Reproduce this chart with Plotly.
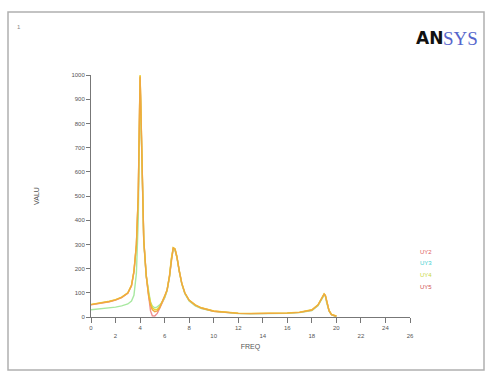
import plotly.graph_objects as go

# ---- data ----
freq = [0, 0.5, 1, 1.5, 2, 2.5, 3.0, 3.3, 3.5, 3.7, 3.85, 3.95, 4.0, 4.05, 4.15, 4.3,
        4.5, 4.7, 4.85, 5.0, 5.2, 5.4, 5.6, 5.8, 6.0, 6.2, 6.4, 6.55, 6.7, 6.85, 7.0,
        7.2, 7.4, 7.65, 8.0, 8.5, 9, 10, 11, 12, 13, 14, 15, 16, 17, 18, 18.5, 18.8,
        19.0, 19.1, 19.2, 19.4, 19.6, 19.8, 20]
uy_a = [50, 54, 58, 63, 70, 80, 98, 128, 185, 295, 495, 795, 990, 890, 590, 315,
        170, 70, 25, 5, 4, 15, 35, 58, 80, 110, 168, 238, 282, 278, 248,
        188, 138, 98, 68, 48, 37, 24, 18, 15, 14, 14, 15, 16, 19, 28, 48, 75,
        93, 88, 62, 26, 10, 5, 3]
uy_b = [30, 32, 34, 37, 41, 46, 54, 66, 90, 180, 400, 740, 960, 870, 580, 310,
        168, 95, 62, 45, 38, 42, 50, 62, 80, 108, 165, 235, 280, 276, 246,
        186, 136, 96, 66, 46, 35, 23, 17, 14, 13, 13, 14, 15, 18, 27, 46, 72,
        90, 86, 60, 25, 10, 5, 3]
uy_c = [52, 56, 60, 65, 72, 82, 100, 132, 190, 300, 505, 805, 1000, 900, 600, 320,
        175, 95, 60, 38, 30, 32, 42, 62, 84, 112, 172, 242, 287, 282, 250,
        190, 140, 100, 70, 50, 38, 25, 19, 16, 15, 15, 16, 17, 20, 30, 50, 78,
        96, 90, 64, 27, 11, 6, 4]
uy_d = [51, 55, 59, 64, 71, 81, 99, 130, 188, 298, 500, 800, 995, 895, 595, 318,
        172, 85, 48, 30, 22, 25, 38, 60, 82, 111, 170, 240, 285, 280, 249,
        189, 139, 99, 69, 49, 37, 24, 18, 15, 14, 14, 15, 16, 19, 29, 49, 76,
        94, 89, 63, 26, 10, 5, 3]

series_names = ["UY2", "UY3", "UY4", "UY5"]
series_vals = [uy_a, uy_b, uy_c, uy_d]
line_colors = ["#F09090", "#A8E8A0", "#E8D830", "#F0A840"]
legend_colors = ["#E06060", "#40D0D0", "#C8D840", "#D05050"]

x_ticks = list(range(0, 28, 2))
y_ticks = list(range(0, 1100, 100))

fig = go.Figure()
for name, vals, c in zip(series_names, series_vals, line_colors):
    fig.add_trace(go.Scatter(x=freq, y=vals, mode="lines", name=name,
                             line=dict(color=c, width=1.4), showlegend=False))

x_ticktext = [str(v) if i % 2 == 0 else "<br>" + str(v) for i, v in enumerate(x_ticks)]

# plot area pixel geometry
L, R, T, B = 91, 410, 75, 317
W, H = 490, 372
def px(xp):
    return (xp - L) / (R - L)
def py(yp):
    return (B - yp) / (B - T)

shapes = [dict(type="rect", xref="paper", yref="paper", layer="above",
               x0=px(8), x1=px(484), y0=py(370), y1=py(12),
               line=dict(color="#B0B0B0", width=1.5))]

annotations = [
    dict(xref="paper", yref="paper", x=px(15), y=py(22), text="1", showarrow=False,
         font=dict(size=6, color="#888888", family="Arial")),
    dict(xref="paper", yref="paper", x=px(414), y=py(26), xanchor="left", showarrow=False,
         text="<b>AN</b>", font=dict(size=17, color="#111111", family="DejaVu Sans")),
    dict(xref="paper", yref="paper", x=px(441), y=py(26), xanchor="left", showarrow=False,
         text="SYS", font=dict(size=19, color="#5566CC", family="Liberation Serif")),
]
for i, (name, c) in enumerate(zip(series_names, legend_colors)):
    yy = [257, 268, 280, 292][i]
    annotations.append(dict(xref="paper", yref="paper", x=px(418), y=py(yy), xanchor="left",
                            text=name, showarrow=False,
                            font=dict(size=6, color=c, family="Arial")))

fig.update_layout(
    width=W, height=H,
    margin=dict(l=L, r=W - R, t=T, b=H - B, pad=0),
    paper_bgcolor="white", plot_bgcolor="white",
    font=dict(family="Arial", size=6, color="#555555"),
    xaxis=dict(range=[0, 26], tickvals=x_ticks, ticktext=x_ticktext, showgrid=False,
               zeroline=False, showline=True, linecolor="#777777", linewidth=1,
               ticks="outside", ticklen=5, tickcolor="#777777",
               title=dict(text="FREQ", font=dict(size=7, color="#555555"), standoff=6),
               tickfont=dict(size=6, color="#555555")),
    yaxis=dict(range=[0, 1000], tickvals=y_ticks, showgrid=False, zeroline=False,
               showline=True, linecolor="#777777", linewidth=1,
               ticks="outside", ticklen=4, tickcolor="#777777",
               title=dict(text="VALU", font=dict(size=7, color="#555555"), standoff=30),
               tickfont=dict(size=6, color="#555555")),
    shapes=shapes, annotations=annotations, showlegend=False,
)

fig.write_html("out.html", config={"displayModeBar": False},
               post_script="document.body.style.margin='0';")
